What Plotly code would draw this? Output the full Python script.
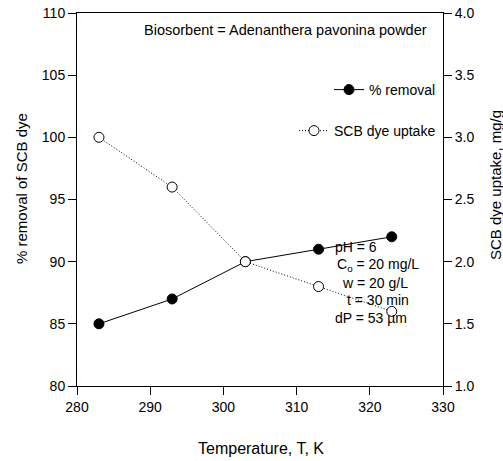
import plotly.graph_objects as go

# Data
temperature = [283, 293, 303, 313, 323]
removal_pct = [85, 87, 90, 91, 92]
dye_uptake = [3.0, 2.6, 2.0, 1.8, 1.6]

x_ticks = [280, 290, 300, 310, 320, 330]
y_ticks = [80, 85, 90, 95, 100, 105, 110]
y2_ticks = [1.0, 1.5, 2.0, 2.5, 3.0, 3.5, 4.0]

W, H = 503, 461
L, R, T, B = 77, 60, 13, 75
PW, PH = W - L - R, H - T - B


def px(xp):
    return (xp - L) / PW


def py(yp):
    return 1 - (yp - T) / PH


FONT = "Liberation Sans, Arial, sans-serif"

fig = go.Figure()
fig.add_trace(go.Scatter(
    x=temperature, y=removal_pct, name="% removal", mode="lines+markers",
    line=dict(color="black", width=1),
    marker=dict(symbol="circle", size=10, color="black", line=dict(color="black", width=1)),
    legend="legend", showlegend=True,
))
fig.add_trace(go.Scatter(
    x=temperature, y=dye_uptake, name="SCB dye uptake", mode="lines+markers",
    yaxis="y2",
    line=dict(color="black", width=1, dash="1px,2px"),
    marker=dict(symbol="circle", size=10, color="white", line=dict(color="black", width=1)),
    legend="legend2", showlegend=True,
))

axis_common = dict(
    showline=True, linecolor="black", linewidth=1,
    ticks="outside", ticklen=8, tickwidth=1, tickcolor="black",
    showgrid=False, zeroline=False,
    tickfont=dict(family=FONT, size=14, color="black"),
)

fig.update_layout(
    width=W, height=H,
    showlegend=True,
    margin=dict(l=L, r=R, t=T, b=B, autoexpand=False),
    paper_bgcolor="white", plot_bgcolor="white",
    font=dict(family=FONT, size=14, color="black"),
    xaxis=dict(
        range=[280, 330], tickvals=x_ticks, mirror=True,
        automargin=False, **axis_common,
    ),
    yaxis=dict(
        range=[80, 110], tickvals=y_ticks,
        automargin=False, **axis_common,
    ),
    yaxis2=dict(
        range=[1.0, 4.0], tickvals=y2_ticks, ticktext=[f"{v:.1f}" for v in y2_ticks],
        overlaying="y", side="right",
        automargin=False, **axis_common,
    ),
    legend=dict(
        x=px(441), y=py(90), xanchor="right", yanchor="middle",
        bgcolor="rgba(0,0,0,0)", borderwidth=0,
        font=dict(family=FONT, size=14, color="black"),
    ),
    legend2=dict(
        x=px(441), y=py(131), xanchor="right", yanchor="middle",
        bgcolor="rgba(0,0,0,0)", borderwidth=0,
        font=dict(family=FONT, size=14, color="black"),
    ),
)

# Axis titles as text annotations (placed like the reference)
fig.add_annotation(
    text="Temperature, T, K", xref="paper", yref="paper",
    x=px(261), y=py(448), xanchor="center", yanchor="middle", showarrow=False,
    font=dict(family=FONT, size=16, color="black"),
)
fig.add_annotation(
    text="% removal of SCB dye", xref="paper", yref="paper",
    x=px(21), y=py(189), xanchor="center", yanchor="middle", showarrow=False,
    textangle=-90, font=dict(family=FONT, size=15, color="black"),
)
fig.add_annotation(
    text="SCB dye uptake, mg/g", xref="paper", yref="paper",
    x=px(495), y=py(185), xanchor="center", yanchor="middle", showarrow=False,
    textangle=-90, font=dict(family=FONT, size=15, color="black"),
)

fig.add_annotation(
    text="Biosorbent = Adenanthera pavonina powder",
    xref="paper", yref="paper", x=px(285.5), y=py(30),
    xanchor="center", yanchor="middle", showarrow=False,
    font=dict(family=FONT, size=14.5, color="black"),
)

params = [
    ("pH = 6", 333, 247),
    ("C<sub>o</sub> = 20 mg/L", 335, 265),
    ("w = 20 g/L", 340, 283),
    ("t = 30 min", 345, 300),
    ("dP = 53 µm", 333, 318),
]
for txt, xp, yp in params:
    fig.add_annotation(
        text=txt, xref="paper", yref="paper", x=px(xp), y=py(yp),
        xanchor="left", yanchor="middle", showarrow=False,
        font=dict(family=FONT, size=14, color="black"),
    )

fig.write_html("out.html")
